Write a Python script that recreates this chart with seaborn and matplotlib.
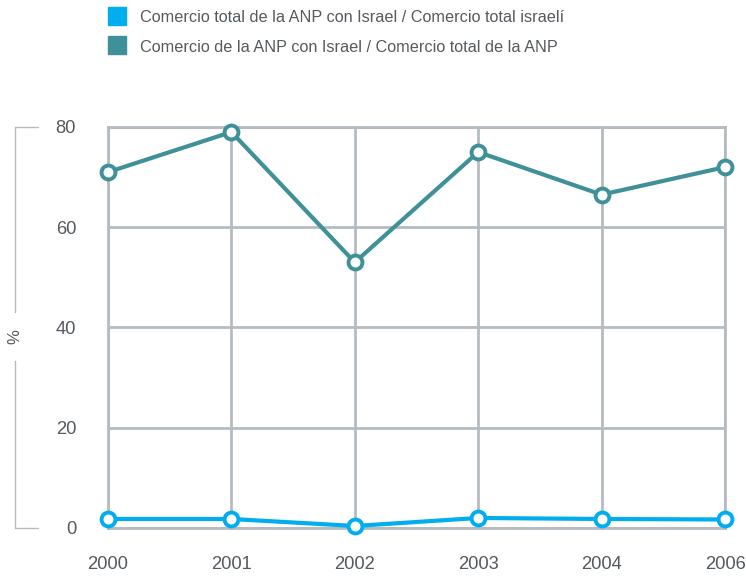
import matplotlib
matplotlib.use("Agg")
import matplotlib.pyplot as plt
import seaborn as sns
import pandas as pd
from matplotlib.lines import Line2D
from matplotlib.patches import Rectangle

years = ["2000", "2001", "2002", "2003", "2004", "2006"]
share_israel_total = [1.8, 1.8, 0.4, 2.0, 1.8, 1.7]
share_anp_total = [71.0, 79.0, 53.0, 75.0, 66.5, 72.0]
series_names = ["Comercio total de la ANP con Israel / Comercio total israelí",
                "Comercio de la ANP con Israel / Comercio total de la ANP"]
colors = ["#00AEEF", "#3F9099"]

sns.set_theme(style="white")
plt.rcParams['font.family'] = ['Liberation Sans', 'DejaVu Sans']

fig = plt.figure(figsize=(7.46, 5.76), dpi=100)
ax = fig.add_axes([108/746, 1-528/576, (725-108)/746, (528-127)/576])

df = pd.DataFrame({
    "year": years * 2,
    "value": share_israel_total + share_anp_total,
    "series": [series_names[0]] * len(years) + [series_names[1]] * len(years),
})

grid_c = "#B5BCC1"
for name, col in zip(series_names, colors):
    sub = df[df["series"] == name]
    sns.lineplot(data=sub, x="year", y="value", ax=ax, color=col, lw=3,
                 marker="o", markersize=10, markerfacecolor="white",
                 markeredgecolor=col, markeredgewidth=2.8, clip_on=False,
                 zorder=5, sort=False)

ax.set_xlim(0, len(years) - 1)
ax.set_ylim(0, 80)
ax.set_yticks([0, 20, 40, 60, 80])
ax.set_xticks(range(len(years)))
ax.set_xticklabels(years)
ax.grid(True, color=grid_c, lw=2)
for s in ax.spines.values():
    s.set_color(grid_c)
    s.set_linewidth(2)
ax.tick_params(axis="both", length=0, labelsize=13.2, labelcolor="#555a5f")
ax.tick_params(axis="y", pad=23)
ax.tick_params(axis="x", pad=20)
ax.set_xlabel("")
ax.set_ylabel("")
if ax.legend_:
    ax.legend_.remove()

# bracket with % label
bc = "#B5BCC1"
def fx(px): return px / 746
def fy(py): return 1 - py / 576
fig.add_artist(Line2D([fx(15), fx(15)], [fy(127), fy(312)], color=bc, lw=1))
fig.add_artist(Line2D([fx(15), fx(15)], [fy(361), fy(528)], color=bc, lw=1))
fig.add_artist(Line2D([fx(15), fx(38)], [fy(127), fy(127)], color=bc, lw=1))
fig.add_artist(Line2D([fx(15), fx(38)], [fy(528), fy(528)], color=bc, lw=1))
fig.text(fx(15), fy(337), "%", rotation=90, ha="center", va="center",
         fontsize=12, color="#555a5f")

# legend
for i, (name, col) in enumerate(zip(series_names, colors)):
    yc = 16 + i * 29
    fig.add_artist(Rectangle((fx(108), fy(yc + 9)), 18/746, 18/576,
                             color=col, transform=fig.transFigure))
    fig.text(fx(140), fy(yc + 2), name, ha="left", va="center",
             fontsize=11.7, color="#555a5f")

fig.savefig("out.png", dpi=100)
